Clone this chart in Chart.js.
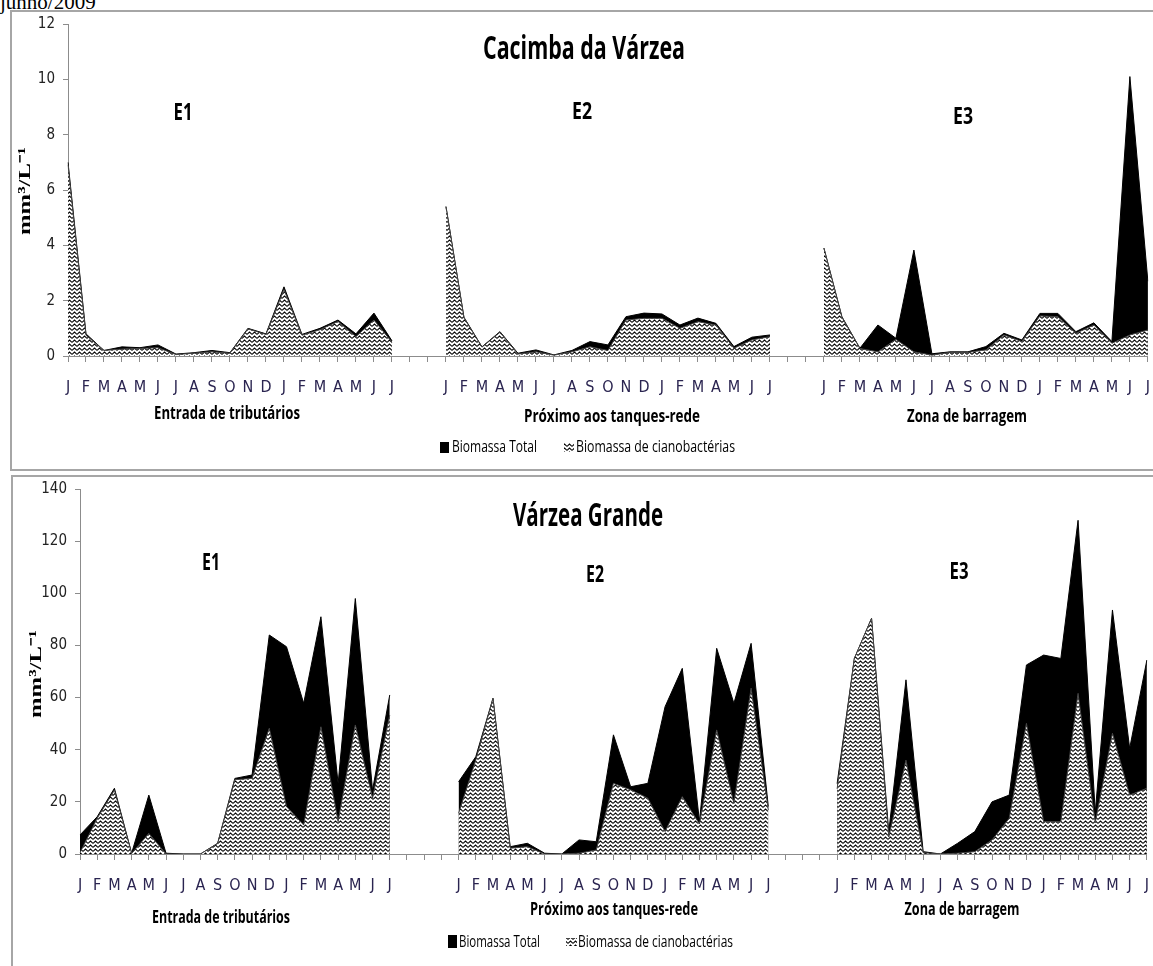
<!DOCTYPE html>
<html lang="pt">
<head>
    <meta charset="UTF-8">
    <title>Biomassa - Cacimba da Várzea e Várzea Grande</title>
    <script src="https://cdn.jsdelivr.net/npm/chart.js"></script>
    <style>
        body { margin: 0; width: 1153px; height: 966px; overflow: hidden; background: #fff; position: relative; }
        .topo { position: absolute; left: 0; top: -8px; font: 21px "Liberation Serif", serif; line-height: 21px; }
        .painel { position: absolute; border: 2px solid #a6a6a6; box-sizing: border-box; }
        #p1 { left: 10px; top: 10px; width: 1160px; height: 461px; }
        #p2 { left: 11px; top: 475px; width: 1160px; height: 500px; }
        canvas { position: absolute; }
        #c1 { left: 12px; top: 7px; }
        #c2 { left: 13px; top: 472px; }
    </style>
</head>
<body>
    <div class="topo">junho/2009</div>
    <div class="painel" id="p1"></div>
    <div class="painel" id="p2"></div>
    <canvas id="c1" width="1154" height="462"></canvas>
    <canvas id="c2" width="1152" height="494"></canvas>

    <script>
        // meses de cada estação (jan/2008 a jul/2009)
        const meses = ['J','F','M','A','M','J','J','A','S','O','N','D','J','F','M','A','M','J','J'];

        // Cacimba da Várzea (mm3/L)
        const cvTotalE1 = [7.0,0.8,0.2,0.33,0.3,0.4,0.07,0.12,0.2,0.12,1.0,0.8,2.5,0.78,1.0,1.3,0.8,1.55,0.55];
        const cvCianoE1 = [6.9,0.75,0.2,0.25,0.27,0.3,0.05,0.1,0.15,0.1,0.98,0.78,2.4,0.75,0.95,1.25,0.7,1.3,0.5];
        const cvTotalE2 = [5.4,1.4,0.33,0.88,0.1,0.22,0.04,0.2,0.52,0.4,1.42,1.55,1.52,1.12,1.37,1.18,0.34,0.68,0.76];
        const cvCianoE2 = [5.4,1.38,0.32,0.86,0.07,0.15,0.03,0.15,0.33,0.2,1.3,1.36,1.36,1.0,1.24,1.12,0.28,0.58,0.7];
        const cvTotalE3 = [3.9,1.42,0.28,1.12,0.64,3.83,0.08,0.15,0.15,0.34,0.82,0.58,1.54,1.54,0.88,1.2,0.52,10.1,2.7];
        const cvCianoE3 = [3.9,1.4,0.27,0.15,0.6,0.15,0.03,0.13,0.13,0.22,0.76,0.52,1.45,1.42,0.82,1.12,0.46,0.76,0.94];

        // Várzea Grande (mm3/L)
        const vgTotalE1 = [7.3,14.3,25.2,0.3,22.6,0.3,0,0,4.1,29,30.3,84,79.5,57.8,91,27,98,24.5,61];
        const vgCianoE1 = [0.5,13.7,24.5,0.2,7.9,0,0,0,4,28.5,29,48.2,18.2,11.1,48.8,12.4,49.5,21.4,53.3];
        const vgTotalE2 = [27.7,37.3,59.7,2.8,4.1,0.3,0,5.4,4.7,45.7,25.8,27.1,56.5,71.2,12.5,78.9,57.8,80.8,18.2];
        const vgCianoE2 = [15.6,36,59.7,2.2,2.8,0,0,0.3,1.5,27.1,24.6,21.4,8.6,22,11.5,47.6,19.4,63.6,16.9];
        const vgTotalE3 = [27,75,90.4,8.5,66.8,0.9,0,4.1,8.6,20,22.6,72.5,76.3,75,128,16,93.6,40.5,74.4];
        const vgCianoE3 = [25,75,90.4,6.5,36,0.5,0,0.3,0.9,5.4,13.7,50.1,12.4,12.4,61.6,12,46.3,22.6,25.2];

        const estacoes = ['Entrada de tributários', 'Próximo aos tanques-rede', 'Zona de barragem'];
        const series = ['Biomassa Total', 'Biomassa de cianobactérias'];

        const FONTE = '"Liberation Sans Narrow", "DejaVu Sans Condensed", "Open Sans", sans-serif';
        const FONTE_B = '"Open Sans", "Liberation Sans", sans-serif';

        // junta as três estações com meses vazios entre elas
        function juntar(a, b, c, vazios) {
            const gap = Array(vazios).fill(null);
            return [...a, ...gap, ...b, ...gap, ...c];
        }
        function rotulos(vazios) {
            const gap = Array(vazios).fill('');
            return [...meses, ...gap, ...meses, ...gap, ...meses];
        }

        // padrão ondulado (estilo Excel)
        function padraoOnda() {
            const c = document.createElement('canvas');
            c.width = 5; c.height = 4;
            const g = c.getContext('2d');
            g.fillStyle = '#fff';
            g.fillRect(0, 0, 5, 4);
            g.strokeStyle = '#000';
            g.lineWidth = 1.1;
            g.beginPath();
            g.moveTo(0, 3.4); g.lineTo(2.5, 1); g.lineTo(5, 3.4);
            g.stroke();
            return g.createPattern(c, 'repeat');
        }
        const onda = padraoOnda();

        // textos e legenda desenhados sobre o canvas
        const textos = {
            id: 'textos',
            afterDraw(chart, args, opts) {
                const ctx = chart.ctx;
                (opts.items || []).forEach(it => {
                    ctx.save();
                    if (it.box) {
                        ctx.fillStyle = it.box === 'onda' ? onda : '#000';
                        ctx.fillRect(it.x - opts.ox, it.y - opts.oy, it.bw, it.bh);
                        ctx.restore();
                        return;
                    }
                    ctx.font = it.font;
                    ctx.fillStyle = it.color || '#000';
                    ctx.textBaseline = 'middle';
                    ctx.textAlign = it.align || 'center';
                    const w = ctx.measureText(it.t).width;
                    const s = it.w ? it.w / w : 1;
                    ctx.translate(it.x - opts.ox, it.y - opts.oy);
                    if (it.rot) ctx.rotate(it.rot);
                    ctx.scale(s, 1);
                    ctx.fillText(it.t, 0, 0);
                    ctx.restore();
                });
            }
        };

        function grafico(id, labels, total, ciano, ymax, passo, pad, yw, items, ox, oy) {
            return new Chart(document.getElementById(id), {
                type: 'line',
                data: {
                    labels: labels,
                    datasets: [
                        { label: series[1], data: ciano, fill: 'origin', backgroundColor: onda,
                          borderColor: '#444', borderWidth: 1, pointRadius: 0, tension: 0, order: 0, spanGaps: false },
                        { label: series[0], data: total, fill: 'origin', backgroundColor: '#000',
                          borderColor: '#000', borderWidth: 1, pointRadius: 0, tension: 0, order: 1, spanGaps: false }
                    ]
                },
                options: {
                    responsive: false,
                    animation: false,
                    layout: { padding: pad },
                    plugins: {
                        legend: { display: false },
                        tooltip: { enabled: false },
                        textos: { items: items, ox: ox, oy: oy }
                    },
                    scales: {
                        x: {
                            offset: false,
                            grid: { display: true, drawOnChartArea: false, drawTicks: true, tickLength: 6, color: '#8c8c8c', offset: false },
                            border: { display: true, color: '#8c8c8c', width: 1 },
                            ticks: { autoSkip: false, maxRotation: 0, color: '#2a2450', padding: 16, font: { family: FONTE, size: 16 } },
                            afterFit: s => { s.height = 40; }
                        },
                        y: {
                            min: 0, max: ymax,
                            grid: { display: true, drawOnChartArea: false, drawTicks: true, tickLength: 5, color: '#8c8c8c' },
                            border: { display: true, color: '#8c8c8c', width: 1 },
                            ticks: { stepSize: passo, color: '#222', padding: 8, font: { family: FONTE, size: 15 } },
                            afterFit: s => { s.width = yw; }
                        }
                    }
                },
                plugins: [textos]
            });
        }

        const tit = 'bold 32px ' + FONTE_B;
        const est = 'bold 24px ' + FONTE_B;
        const sub = 'bold 18px ' + FONTE_B;
        const leg = '16px ' + FONTE_B;
        const eixo = 'bold 17px "Liberation Serif", serif';

        grafico('c1', rotulos(2), juntar(cvTotalE1, cvTotalE2, cvTotalE3, 2), juntar(cvCianoE1, cvCianoE2, cvCianoE3, 2),
            12, 2, { left: 16, right: 5, top: 17, bottom: 73 }, 40, [
                { t: 'Cacimba da Várzea', x: 584, y: 50, w: 202, font: tit },
                { t: 'E1', x: 183, y: 113, w: 19, font: est },
                { t: 'E2', x: 582, y: 112, w: 20, font: est },
                { t: 'E3', x: 963, y: 117, w: 20, font: est },
                { t: estacoes[0], x: 227, y: 414, w: 146, font: sub },
                { t: estacoes[1], x: 612, y: 417, w: 176, font: sub },
                { t: estacoes[2], x: 967, y: 417, w: 120, font: sub },
                { t: 'mm³/L⁻¹', x: 26, y: 191, w: 88, font: eixo, rot: -Math.PI / 2 },
                { box: 'preto', x: 440, y: 442, bw: 9, bh: 11 },
                { t: series[0], x: 452, y: 447, w: 85, font: leg, align: 'left' },
                { box: 'onda', x: 564, y: 443, bw: 10, bh: 9 },
                { t: series[1], x: 576, y: 447, w: 159, font: leg, align: 'left' }
            ], 12, 7);

        grafico('c2', rotulos(3), juntar(vgTotalE1, vgTotalE2, vgTotalE3, 3), juntar(vgCianoE1, vgCianoE2, vgCianoE3, 3),
            140, 20, { left: 27, right: 6, top: 17, bottom: 72 }, 40, [
                { t: 'Várzea Grande', x: 588, y: 517, w: 150, font: tit },
                { t: 'E1', x: 211, y: 563, w: 18, font: est },
                { t: 'E2', x: 595, y: 575, w: 18, font: est },
                { t: 'E3', x: 959, y: 572, w: 19, font: est },
                { t: estacoes[0], x: 221, y: 918, w: 138, font: sub },
                { t: estacoes[1], x: 614, y: 910, w: 168, font: sub },
                { t: estacoes[2], x: 962, y: 910, w: 115, font: sub },
                { t: 'mm³/L⁻¹', x: 37, y: 674, w: 88, font: eixo, rot: -Math.PI / 2 },
                { box: 'preto', x: 448, y: 935, bw: 9, bh: 13 },
                { t: series[0], x: 459, y: 942, w: 81, font: leg, align: 'left' },
                { box: 'onda', x: 566, y: 938, bw: 11, bh: 8 },
                { t: series[1], x: 578, y: 942, w: 155, font: leg, align: 'left' }
            ], 13, 472);
    </script>
</body>
</html>
